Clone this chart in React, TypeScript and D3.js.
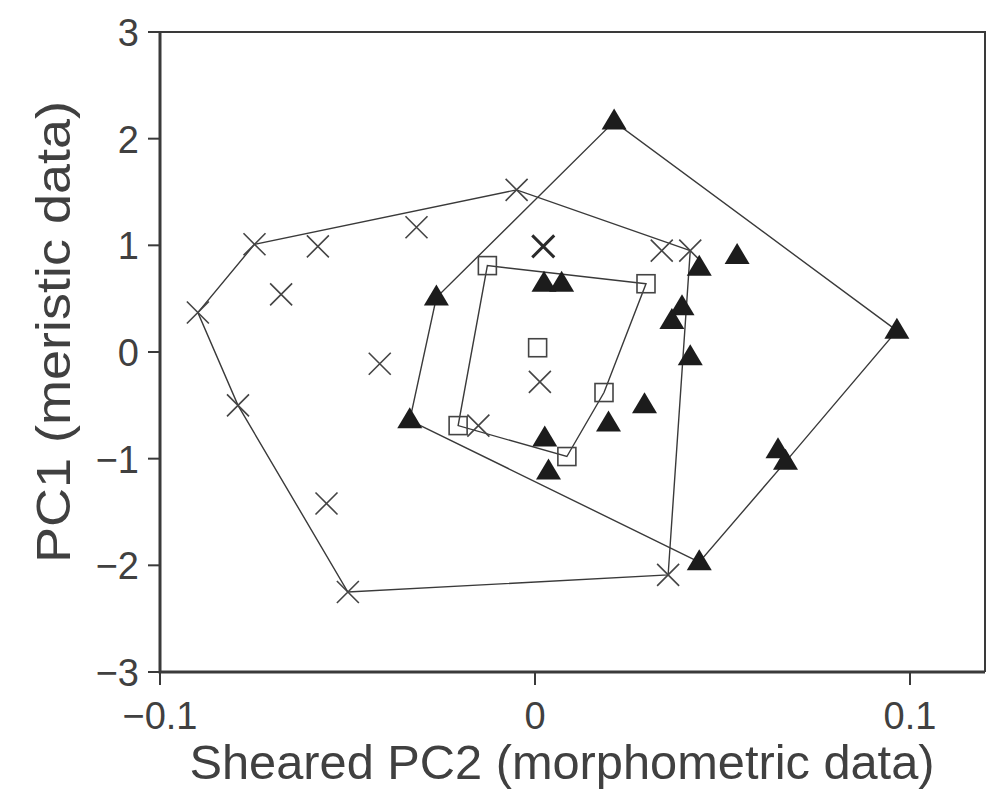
import React, { useEffect, useRef } from 'react';
import * as d3 from 'd3';

// group 1: crosses
const crossX = [-0.0899, -0.0748, -0.0579, -0.0677, -0.0049, -0.0316, -0.0414, -0.0792, -0.0556, -0.0499, 0.0355, 0.0414, 0.0338, 0.0022, 0.0013, -0.0151];
const crossY = [0.37, 1.01, 0.99, 0.54, 1.52, 1.17, -0.11, -0.5, -1.42, -2.25, -2.09, 0.95, 0.95, 0.99, -0.28, -0.69];

// group 2: filled triangles
const triX = [0.0211, 0.0965, 0.0668, 0.0648, 0.0438, -0.0334, -0.0263, 0.0438, 0.0539, 0.0024, 0.0071, 0.0392, 0.0365, 0.0414, 0.0292, 0.0196, 0.0026, 0.0036];
const triY = [2.16, 0.2, -1.03, -0.92, -1.97, -0.64, 0.51, 0.79, 0.9, 0.64, 0.64, 0.42, 0.29, -0.05, -0.5, -0.67, -0.81, -1.12];

// group 3: open squares
const sqX = [-0.0127, 0.0296, 0.0184, 0.0085, -0.0205, 0.0007];
const sqY = [0.81, 0.64, -0.38, -0.98, -0.69, 0.04];

const xTicks = [-0.1, 0, 0.1];
const xTickLabels = ['\u22120.1', '0', '0.1'];
const yTicks = [3, 2, 1, 0, -1, -2, -3];
const yTickLabels = ['3', '2', '1', '0', '\u22121', '\u22122', '\u22123'];

function App() {
  const ref = useRef<SVGSVGElement>(null);

  useEffect(() => {
    const width = 991, height = 799;
    const left = 160, right = 985, top = 32, bottom = 672;
    const ink = '#3a3a3a';
    const textInk = '#404040';
    const font = 'Liberation Sans, Arial, Helvetica, sans-serif';

    const svg = d3.select(ref.current).attr('width', width).attr('height', height);
    svg.selectAll('*').remove();

    const x = d3.scaleLinear().domain([-0.1, 0.12]).range([left, right]);
    const y = d3.scaleLinear().domain([-3, 3]).range([bottom, top]);

    const groups = [
      { xs: crossX, ys: crossY, kind: 'cross' },
      { xs: triX, ys: triY, kind: 'tri' },
      { xs: sqX, ys: sqY, kind: 'sq' },
    ];

    // convex hull around each group
    groups.forEach((g) => {
      const pts = g.xs.map((v, i) => [x(v), y(g.ys[i])] as [number, number]);
      const hull = d3.polygonHull(pts);
      if (hull) {
        svg.append('path')
          .attr('d', 'M' + hull.map((p) => p.join(',')).join('L') + 'Z')
          .attr('fill', 'none')
          .attr('stroke', ink)
          .attr('stroke-width', 1.4);
      }
    });

    // markers
    groups.forEach((g) => {
      g.xs.forEach((v, i) => {
        const cx = x(v), cy = y(g.ys[i]);
        const m = svg.append('g').attr('transform', `translate(${cx},${cy})`);
        if (g.kind === 'cross') {
          // the cross near (0, 1) is printed heavier in the original
          const heavy = Math.abs(v - 0.0022) < 1e-6 && Math.abs(g.ys[i] - 0.99) < 1e-6;
          m.append('path')
            .attr('d', 'M-11,-11L11,11M-11,11L11,-11')
            .attr('stroke', heavy ? '#2a2a2a' : '#444')
            .attr('stroke-width', heavy ? 3 : 1.6)
            .attr('fill', 'none');
        } else if (g.kind === 'tri') {
          m.append('path')
            .attr('d', 'M0,-13L12.5,8L-12.5,8Z')
            .attr('fill', '#1c1c1c');
        } else {
          m.append('rect')
            .attr('x', -9).attr('y', -9).attr('width', 18).attr('height', 18)
            .attr('fill', 'none')
            .attr('stroke', '#444')
            .attr('stroke-width', 1.6);
        }
      });
    });

    // frame
    svg.append('path')
      .attr('d', `M${left},${top}H${right}V${bottom}`)
      .attr('fill', 'none').attr('stroke', ink).attr('stroke-width', 2);
    svg.append('path')
      .attr('d', `M${left},${top}V${bottom}H${right}`)
      .attr('fill', 'none').attr('stroke', ink).attr('stroke-width', 3);

    // y axis ticks
    yTicks.forEach((t, i) => {
      svg.append('line')
        .attr('x1', left - 12).attr('x2', left)
        .attr('y1', y(t)).attr('y2', y(t))
        .attr('stroke', ink).attr('stroke-width', 2);
      svg.append('text')
        .attr('x', left - 21).attr('y', y(t) + 14)
        .attr('text-anchor', 'end')
        .attr('font-family', font).attr('font-size', 38)
        .attr('fill', textInk)
        .text(yTickLabels[i]);
    });

    // x axis ticks
    xTicks.forEach((t, i) => {
      svg.append('line')
        .attr('x1', x(t)).attr('x2', x(t))
        .attr('y1', bottom).attr('y2', bottom + 13)
        .attr('stroke', ink).attr('stroke-width', 2);
      svg.append('text')
        .attr('x', x(t)).attr('y', 729)
        .attr('text-anchor', 'middle')
        .attr('font-family', font).attr('font-size', 38)
        .attr('fill', textInk)
        .text(xTickLabels[i]);
    });

    svg.append('text')
      .attr('x', 562).attr('y', 779)
      .attr('text-anchor', 'middle')
      .attr('font-family', font).attr('font-size', 48)
      .attr('fill', textInk)
      .attr('textLength', 745).attr('lengthAdjust', 'spacingAndGlyphs')
      .text('Sheared PC2 (morphometric data)');

    svg.append('text')
      .attr('transform', 'translate(70,332) rotate(-90)')
      .attr('text-anchor', 'middle')
      .attr('font-family', font).attr('font-size', 48)
      .attr('fill', textInk)
      .attr('textLength', 462).attr('lengthAdjust', 'spacingAndGlyphs')
      .text('PC1 (meristic data)');
  }, []);

  return <svg ref={ref} style={{ position: 'absolute', left: 0, top: 0, background: 'white' }}></svg>;
}

export default App;
